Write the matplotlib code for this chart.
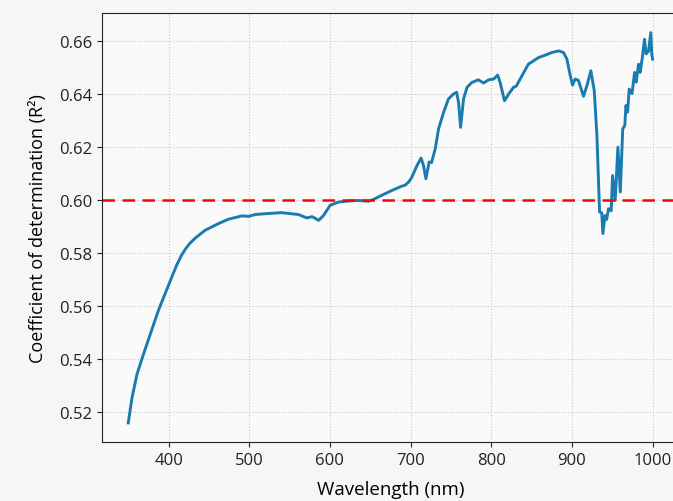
import matplotlib
matplotlib.use("Agg")
import matplotlib.pyplot as plt

wavelength = [350, 354.5, 360.7, 367, 377, 387.6, 400, 410, 416, 420.7, 426, 433, 445.5, 462, 474, 491,
              499, 507.5, 520, 540, 561, 571.5, 578, 586, 592, 600.4, 610.7, 623, 635.5, 648,
              654, 664, 677, 689, 693, 697.5, 701.6, 708, 713, 716, 719, 723, 726, 730.6,
              734.7, 741, 747, 753, 757, 759.5, 762, 765.7, 770, 776, 784, 790.5, 796.7, 803,
              808, 811, 816.5, 821.5, 827.7, 831, 838, 846, 858.7, 867, 875, 883.5, 889.6,
              893.8, 898, 900.8, 904, 908, 914.4, 918.6, 923.5, 927.7, 931, 934.3, 937, 938.4,
              941, 943, 945.4, 948.7, 950.4, 953.7, 957, 960, 963, 965.6, 967, 969, 971, 974.5,
              977.7, 979.7, 982.6, 984.6, 987.6, 990, 992, 995, 997.8, 999, 1000]
r2 = [0.5158, 0.525, 0.534, 0.540, 0.549, 0.5584, 0.5678, 0.5753, 0.5790, 0.5813, 0.5834, 0.5855,
      0.5885, 0.591,
      0.5926, 0.5939, 0.5937, 0.5944, 0.5947, 0.5951, 0.5944, 0.5931, 0.5936, 0.5922, 0.594,
      0.5979, 0.5991, 0.5995, 0.5997, 0.5994, 0.6001, 0.6016, 0.6035, 0.6051, 0.6054, 0.6066,
      0.6085, 0.6129, 0.6157, 0.6129, 0.6079, 0.6142, 0.614, 0.6192, 0.6267, 0.633, 0.638,
      0.6398, 0.6405, 0.6367, 0.6273, 0.638, 0.6424, 0.6442, 0.6452, 0.644, 0.6452, 0.6455,
      0.647, 0.6442, 0.6373, 0.6398, 0.6424, 0.6428, 0.6467, 0.6511, 0.6536, 0.6545, 0.6555,
      0.6561, 0.6555, 0.653, 0.6467, 0.6432, 0.6455, 0.645, 0.639, 0.643, 0.6486, 0.6411,
      0.6242, 0.5954, 0.595, 0.5872, 0.594, 0.5925, 0.5966, 0.5958, 0.6091, 0.5997, 0.6198,
      0.6029, 0.6267, 0.628, 0.6355, 0.633, 0.6417, 0.640, 0.648, 0.6443, 0.6511, 0.648,
      0.6542, 0.6605, 0.655, 0.656, 0.663, 0.655, 0.653]
threshold = 0.60
xticks = [400, 500, 600, 700, 800, 900, 1000]
yticks = [0.52, 0.54, 0.56, 0.58, 0.60, 0.62, 0.64, 0.66]

plt.rcParams['font.family'] = ['Open Sans', 'DejaVu Sans']

fig = plt.figure(figsize=(6.73, 5.02), dpi=100, facecolor='#f6f6f6')
ax = fig.add_axes([0.1516, 0.1175, 0.857, 0.8546])
ax.set_facecolor('#fafafa')

ax.plot(wavelength, r2, color='#1a7bb0', linewidth=2.1)
ax.axhline(threshold, color='red', linestyle='--', linewidth=1.8, dashes=(5, 3))

ax.set_xlim(317.5, 1032.5)
ax.set_ylim(0.5086, 0.6704)
ax.set_xticks(xticks)
ax.set_yticks(yticks)
ax.set_yticklabels([f"{v:.2f}" for v in yticks])
ax.grid(True, color='#c8c8c8', linestyle=':', linewidth=0.8)
ax.tick_params(labelsize=12, colors='#222222')
ax.set_xlabel('Wavelength (nm)', fontsize=13.5, labelpad=9)
ax.set_ylabel('Coefficient of determination (R²)', fontsize=13, labelpad=9)
for s in ax.spines.values():
    s.set_color('#222222')

fig.savefig('out.png', dpi=100, facecolor=fig.get_facecolor())
